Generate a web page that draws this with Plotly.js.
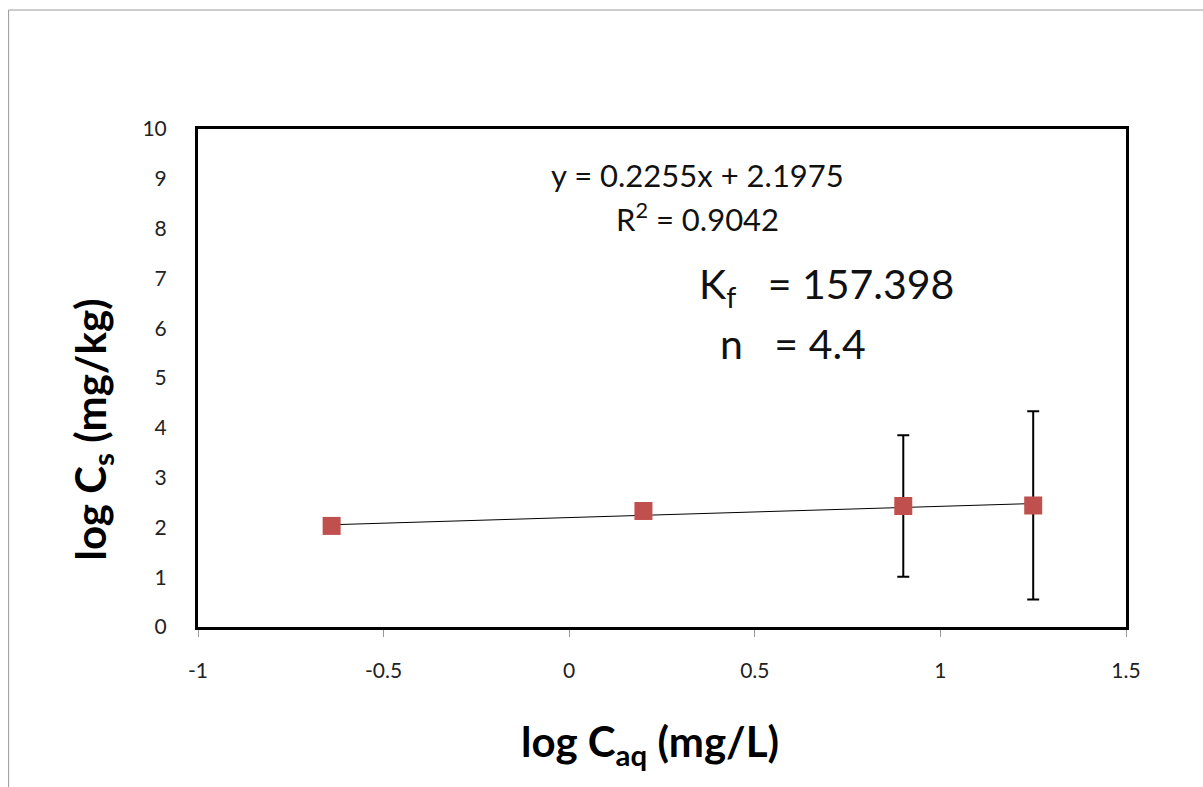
<!DOCTYPE html>
<html>
<head>
<meta charset="utf-8">
<script src="https://cdn.plot.ly/plotly-3.0.1.min.js"></script>
<style>html,body{margin:0;padding:0;background:#fff;}#chart{width:1203px;height:787px;}</style>
</head>
<body>
<div id="chart"></div>
<script>
const logCaq = [-0.64, 0.20, 0.90, 1.25];
const logCs = [2.03, 2.33, 2.43, 2.44];
const errCs = [0, 0, 1.42, 1.89];
const slope = 0.2255;
const intercept = 2.1975;
const trendX = [-0.64, 1.25];
const xTicks = [-1, -0.5, 0, 0.5, 1, 1.5];
const xTickText = ['-1', '-0.5', '0', '0.5', '1', '1.5'];
const yTicks = [0,1,2,3,4,5,6,7,8,9,10];
const xTitle = '<b>log C<sub>aq</sub> (mg/L)</b>';
const yTitle = '<b>log C<sub>s</sub> (mg/kg)</b>';

const L = 197.5, R = 77, T = 129, B = 160;
const W = 1203 - L - R, H = 787 - T - B;
const FONT = 'Lato, "Open Sans", sans-serif';

const trend = {
  x: trendX, y: trendX.map(v => slope * v + intercept),
  mode: 'lines', line: {color: '#000', width: 1}, hoverinfo: 'skip', showlegend: false
};
const pts = {
  x: logCaq, y: logCs, mode: 'markers', showlegend: false,
  marker: {symbol: 'square', size: 18, color: '#C0504D'},
  error_y: {type: 'data', array: errCs, visible: true, color: '#000', thickness: 2, width: 6}
};

const layout = {
  width: 1203, height: 787,
  margin: {l: L, r: R, t: T, b: B, pad: 0},
  paper_bgcolor: '#fff', plot_bgcolor: '#fff',
  font: {family: FONT, color: '#222'},
  showlegend: false,
  xaxis: {
    range: [-1, 1.5], tickvals: xTicks, ticktext: xTickText,
    showgrid: false, zeroline: false, showline: true, linecolor: '#000', linewidth: 3, mirror: true,
    ticks: 'outside', ticklen: 7, tickcolor: '#999', tickwidth: 1,
    ticklabelstandoff: 16,
    tickfont: {size: 21, family: FONT, color: '#222'},
    automargin: false
  },
  yaxis: {
    range: [0, 10], tickvals: yTicks,
    showgrid: false, zeroline: false, showline: true, linecolor: '#000', linewidth: 3, mirror: true,
    ticks: '', ticklabelstandoff: 24,
    tickfont: {size: 21, family: FONT, color: '#222'},
    automargin: false
  },
  annotations: [
    {x: (650 - L) / W, y: -(744 - 627) / H, xref: 'paper', yref: 'paper', text: xTitle,
     showarrow: false, font: {size: 42, family: FONT, color: '#000'}, xanchor: 'center', yanchor: 'middle'},
    {x: (92 - L) / W, y: (627 - 430) / H, xref: 'paper', yref: 'paper', text: yTitle, textangle: -90,
     showarrow: false, font: {size: 42, family: FONT, color: '#000'}, xanchor: 'center', yanchor: 'middle'},
    {x: 0.345, y: 9.08, xref: 'x', yref: 'y', text: 'y = ' + slope + 'x + ' + intercept,
     showarrow: false, font: {size: 31, family: FONT, color: '#111'}, xanchor: 'center'},
    {x: 0.345, y: 8.23, xref: 'x', yref: 'y', text: 'R<sup>2</sup> = 0.9042',
     showarrow: false, font: {size: 31, family: FONT, color: '#111'}, xanchor: 'center'},
    {x: 0.345, y: 6.83, xref: 'x', yref: 'y', text: 'K<sub>f</sub>  &nbsp;= 157.398',
     showarrow: false, font: {size: 41, family: FONT, color: '#111'}, xanchor: 'left'},
    {x: 0.40, y: 5.70, xref: 'x', yref: 'y', text: 'n &nbsp;&nbsp;= 4.4',
     showarrow: false, font: {size: 41, family: FONT, color: '#111'}, xanchor: 'left'}
  ],
  shapes: [
    {type: 'rect', xref: 'paper', yref: 'paper',
     x0: (8 - L) / W, x1: (1215 - L) / W, y0: -(800 - 627) / H, y1: (627 - 10) / H,
     line: {color: '#999', width: 1}, fillcolor: 'rgba(0,0,0,0)', layer: 'below'}
  ]
};

Plotly.newPlot('chart', [trend, pts], layout, {displayModeBar: false, staticPlot: true});
</script>
</body>
</html>
